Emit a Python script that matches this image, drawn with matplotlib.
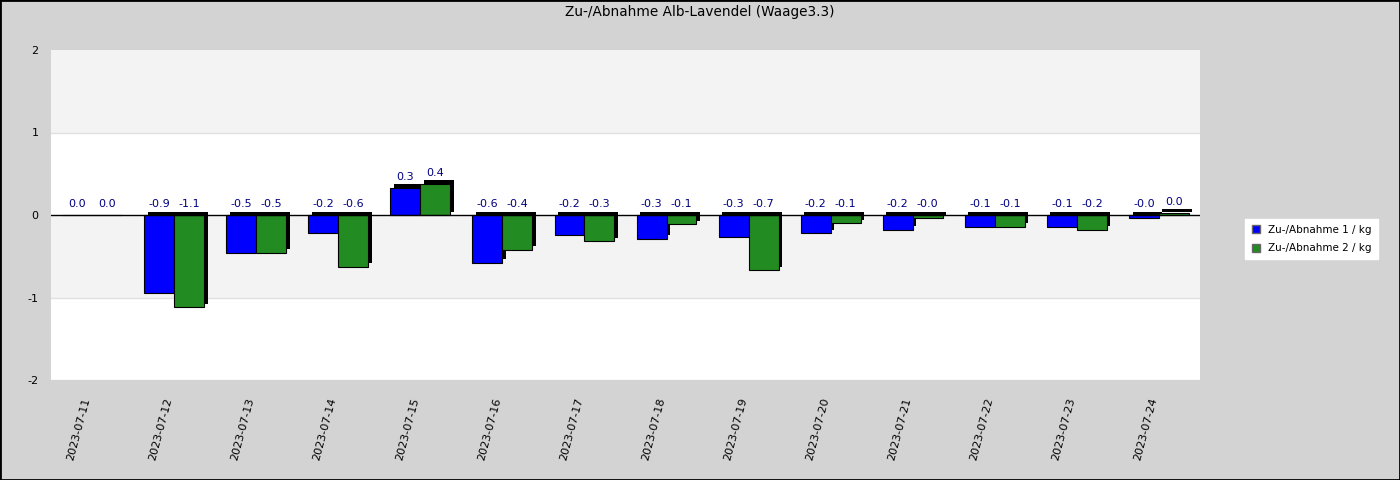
import matplotlib
matplotlib.use("Agg")
import matplotlib.pyplot as plt
import matplotlib.transforms as mtransforms
from matplotlib.lines import Line2D
import numpy as np

# data
dates = ["2023-07-11", "2023-07-12", "2023-07-13", "2023-07-14", "2023-07-15",
         "2023-07-16", "2023-07-17", "2023-07-18", "2023-07-19", "2023-07-20",
         "2023-07-21", "2023-07-22", "2023-07-23", "2023-07-24"]
waage1 = [0.0, -0.94, -0.46, -0.22, 0.33, -0.58, -0.24, -0.29, -0.27, -0.22,
          -0.18, -0.14, -0.14, -0.04]
waage2 = [0.0, -1.12, -0.46, -0.63, 0.38, -0.42, -0.32, -0.11, -0.67, -0.10,
          -0.04, -0.14, -0.18, 0.03]
labels = ["Zu-/Abnahme 1 / kg", "Zu-/Abnahme 2 / kg"]
colors = ["#0000ff", "#228b22"]

plt.rcParams['font.family'] = ['DejaVu Sans']

fig = plt.figure(figsize=(14, 4.8), dpi=100, facecolor="#d3d3d3")
ax = fig.add_axes([51 / 1400, 100 / 480, 1149 / 1400, 330 / 480])
ax.set_facecolor("white")

# background bands
ax.axhspan(1, 2, color="#f3f3f3", zorder=0, lw=0)
ax.axhspan(-1, 0, color="#f3f3f3", zorder=0, lw=0)
for yv in (1, -1, -2):
    ax.axhline(yv, color="#e0e0e0", lw=1, zorder=0.5)

x = np.arange(len(dates))
w = 0.365
# black copy shifted up/right gives the 3D look
shadow = ax.transData + mtransforms.ScaledTranslation(3.5 / 100, 3.5 / 100, fig.dpi_scale_trans)

for vals, off, col, lab in [(waage1, -w / 2, colors[0], labels[0]),
                            (waage2, w / 2, colors[1], labels[1])]:
    ax.bar(x + off, vals, w, color="black", transform=shadow, zorder=2)
    ax.bar(x + off, vals, w, color=col, edgecolor="black", lw=0.8, zorder=3, label=lab)
    for xi, v in zip(x + off, vals):
        ax.annotate(f"{v:.1f}", (xi, max(v, 0)), xytext=(0, 4), textcoords="offset points",
                    ha="center", va="bottom", fontsize=8, color="#000080", zorder=5)

ax.axhline(0, color="black", lw=1, zorder=4)

ax.set_xlim(-0.5, len(dates) - 0.5)
ax.set_ylim(-2, 2)
ax.set_yticks([-2, -1, 0, 1, 2])
ax.set_yticklabels(["-2", "-1", "0", "1", "2"], fontsize=8)
ax.tick_params(axis="y", length=0, pad=9)
ax.set_xticks(x)
ax.set_xticklabels(dates, rotation=75, ha="right", va="bottom", rotation_mode="anchor", fontsize=8)
ax.tick_params(axis="x", length=0, pad=14)
for s in ax.spines.values():
    s.set_visible(False)

fig.text(0.5, 1 - 12 / 480, "Zu-/Abnahme Alb-Lavendel (Waage3.3)", ha="center", va="center", fontsize=9.8)

h = [Line2D([], [], marker="s", ls="", markersize=6, markerfacecolor=c, markeredgecolor="#666666")
     for c in colors]
fig.legend(h, labels, loc="center left", bbox_to_anchor=(1245 / 1400, 241 / 480),
           fontsize=7.5, frameon=True, fancybox=False, edgecolor="white", facecolor="white",
           framealpha=1, borderpad=0.6, borderaxespad=0, handlelength=1.0,
           handletextpad=0.6, labelspacing=0.8)

# outer border
fig.patches.append(plt.Rectangle((0, 0), 1, 1, transform=fig.transFigure, fill=False,
                                 edgecolor="black", lw=2))

fig.savefig("out.png", dpi=100, facecolor=fig.get_facecolor())
